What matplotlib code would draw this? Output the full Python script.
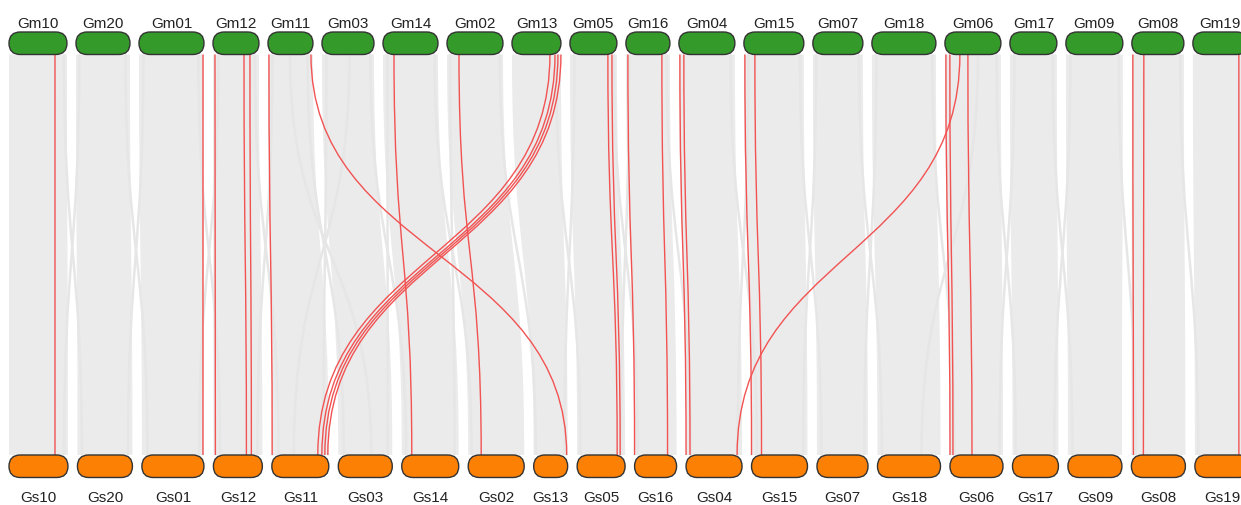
import matplotlib.pyplot as plt
from matplotlib.patches import FancyBboxPatch, PathPatch
from matplotlib.path import Path

plt.rcParams['font.family'] = ['Liberation Sans', 'DejaVu Sans']

# chromosome order and lengths (Mb), G. max on top, G. soja below
gm_names = ['Gm10', 'Gm20', 'Gm01', 'Gm12', 'Gm11', 'Gm03', 'Gm14', 'Gm02', 'Gm13', 'Gm05',
            'Gm16', 'Gm04', 'Gm15', 'Gm07', 'Gm18', 'Gm06', 'Gm17', 'Gm09', 'Gm08', 'Gm19']
gm_len = [52.7, 49.1, 59.1, 41.8, 40.9, 47.3, 50.0, 50.9, 44.5, 42.7,
          40.0, 50.9, 54.5, 45.5, 58.2, 50.9, 42.7, 51.8, 47.3, 50.0]
gs_names = ['Gs10', 'Gs20', 'Gs01', 'Gs12', 'Gs11', 'Gs03', 'Gs14', 'Gs02', 'Gs13', 'Gs05',
            'Gs16', 'Gs04', 'Gs15', 'Gs07', 'Gs18', 'Gs06', 'Gs17', 'Gs09', 'Gs08', 'Gs19']
gs_len = [53.6, 50.0, 56.4, 44.5, 51.8, 49.1, 51.8, 50.9, 30.9, 43.6,
          38.2, 50.9, 50.9, 46.4, 57.3, 48.2, 41.8, 49.1, 49.1, 50.0]

# highlighted gene pairs: (Gm chr, pos Mb, Gs chr, pos Mb)
red_links = [
    ('Gm10', 41.8, 'Gs10', 41.8),
    ('Gm01', 58.2, 'Gs01', 55.5),
    ('Gm12', 1.8, 'Gs12', 1.8),
    ('Gm12', 28.2, 'Gs12', 30.0),
    ('Gm12', 33.6, 'Gs12', 34.5),
    ('Gm11', 0.9, 'Gs11', 0.3),
    ('Gm11', 39.1, 'Gs13', 30.0),
    ('Gm14', 10.0, 'Gs14', 9.1),
    ('Gm02', 10.9, 'Gs02', 11.8),
    ('Gm13', 34.5, 'Gs11', 41.8),
    ('Gm13', 39.1, 'Gs11', 45.5),
    ('Gm13', 41.8, 'Gs11', 48.2),
    ('Gm13', 44.5, 'Gs11', 50.9),
    ('Gm05', 34.5, 'Gs05', 36.4),
    ('Gm05', 38.2, 'Gs05', 39.1),
    ('Gm16', 1.8, 'Gs16', 0.0),
    ('Gm16', 32.7, 'Gs16', 30.0),
    ('Gm04', 0.9, 'Gs04', 0.0),
    ('Gm04', 4.5, 'Gs04', 3.6),
    ('Gm06', 13.6, 'Gs04', 46.4),
    ('Gm15', 0.9, 'Gs15', 0.0),
    ('Gm15', 10.0, 'Gs15', 9.1),
    ('Gm06', 0.9, 'Gs06', 0.0),
    ('Gm06', 4.5, 'Gs06', 2.7),
    ('Gm06', 20.9, 'Gs06', 20.0),
    ('Gm08', 0.9, 'Gs08', 1.8),
    ('Gm08', 10.9, 'Gs08', 10.9),
    ('Gm19', 41.8, 'Gs19', 40.0),
]

# weaker collinear blocks between neighbouring chromosomes
bg_links = [
    ('Gm10', 50, 'Gs20', 4), ('Gm20', 3, 'Gs10', 50), ('Gm20', 45, 'Gs01', 5),
    ('Gm01', 4, 'Gs20', 46), ('Gm01', 54, 'Gs12', 6), ('Gm12', 5, 'Gs01', 52),
    ('Gm12', 38, 'Gs11', 6), ('Gm11', 4, 'Gs12', 40), ('Gm11', 36, 'Gs03', 5),
    ('Gm03', 4, 'Gs11', 47), ('Gm03', 44, 'Gs14', 4), ('Gm14', 4, 'Gs03', 45),
    ('Gm14', 47, 'Gs02', 3), ('Gm02', 3, 'Gs14', 48), ('Gm02', 48, 'Gs13', 2),
    ('Gm13', 40, 'Gs05', 3), ('Gm05', 4, 'Gs13', 28), ('Gm05', 40, 'Gs16', 3),
    ('Gm16', 3, 'Gs05', 40), ('Gm16', 37, 'Gs04', 4), ('Gm04', 47, 'Gs15', 5),
    ('Gm15', 4, 'Gs04', 47), ('Gm15', 51, 'Gs07', 4), ('Gm07', 3, 'Gs15', 47),
    ('Gm07', 42, 'Gs18', 4), ('Gm18', 4, 'Gs07', 43), ('Gm18', 55, 'Gs06', 4),
    ('Gm06', 47, 'Gs17', 3), ('Gm17', 4, 'Gs06', 45), ('Gm17', 39, 'Gs09', 4),
    ('Gm09', 4, 'Gs17', 38), ('Gm09', 48, 'Gs08', 4), ('Gm08', 44, 'Gs19', 3),
    ('Gm11', 20, 'Gs03', 30), ('Gm03', 25, 'Gs11', 20), ('Gm06', 30, 'Gs18', 40),
]

PX_PER_MB = 1.1
X0 = 9
GAP_TOP, GAP_BOT = 9.0, 9.47
TOP_Y, BOT_Y, BAR_H = 33, 456, 22.5


def layout(names, lengths, gap):
    pos = {}
    x = X0
    for n, l in zip(names, lengths):
        pos[n] = (x, l * PX_PER_MB)
        x += l * PX_PER_MB + gap
    return pos


gm_pos = layout(gm_names, gm_len, GAP_TOP)
gs_pos = layout(gs_names, gs_len, GAP_BOT)
y1 = TOP_Y + BAR_H
y2 = BOT_Y
ym = (y1 + y2) / 2


def bezier(xa, xb):
    return [(xa, y1), (xa, ym), (xb, ym), (xb, y2)]


C = [Path.MOVETO, Path.CURVE4, Path.CURVE4, Path.CURVE4]

fig = plt.figure(figsize=(12.41, 5.06), dpi=100)
ax = fig.add_axes([0, 0, 1, 1])
ax.set_xlim(0, 1241)
ax.set_ylim(506, 0)
ax.axis('off')

# grey ribbons for each orthologous chromosome pair
for gm, gs in zip(gm_names, gs_names):
    a1, w1 = gm_pos[gm]
    a2, w2 = gs_pos[gs]
    b1, b2 = a1 + w1, a2 + w2
    verts = bezier(a1, a2) + [(b2, y2), (b2, ym), (b1, ym), (b1, y1), (a1, y1)]
    codes = C + [Path.LINETO, Path.CURVE4, Path.CURVE4, Path.CURVE4, Path.CLOSEPOLY]
    ax.add_patch(PathPatch(Path(verts, codes), facecolor='#ebebeb', edgecolor='none', zorder=1))

for gm, p, gs, q in bg_links:
    xa = gm_pos[gm][0] + p * PX_PER_MB
    xb = gs_pos[gs][0] + q * PX_PER_MB
    ax.add_patch(PathPatch(Path(bezier(xa, xb), C), facecolor='none',
                           edgecolor='#e6e6e6', lw=1.8, zorder=1.5))

for gm, p, gs, q in red_links:
    xa = gm_pos[gm][0] + p * PX_PER_MB
    xb = gs_pos[gs][0] + q * PX_PER_MB
    ax.add_patch(PathPatch(Path(bezier(xa, xb), C), facecolor='none',
                           edgecolor='#f25252', lw=1.0, zorder=2))


def draw_bars(pos, names, y, color, label_y):
    for n in names:
        x, w = pos[n]
        ax.add_patch(FancyBboxPatch((x, y), w, BAR_H,
                                    boxstyle=f'round,pad=0,rounding_size={BAR_H / 2}',
                                    facecolor=color, edgecolor='#333333', lw=1.0, zorder=3))
        ax.text(x + w / 2, label_y, n, ha='center', va='baseline', fontsize=11,
                color='#222222', zorder=4)


draw_bars(gm_pos, gm_names, TOP_Y, '#349a2a', 28)
draw_bars(gs_pos, gs_names, BOT_Y, '#fc8004', 502)

fig.savefig('out.png', dpi=100)
